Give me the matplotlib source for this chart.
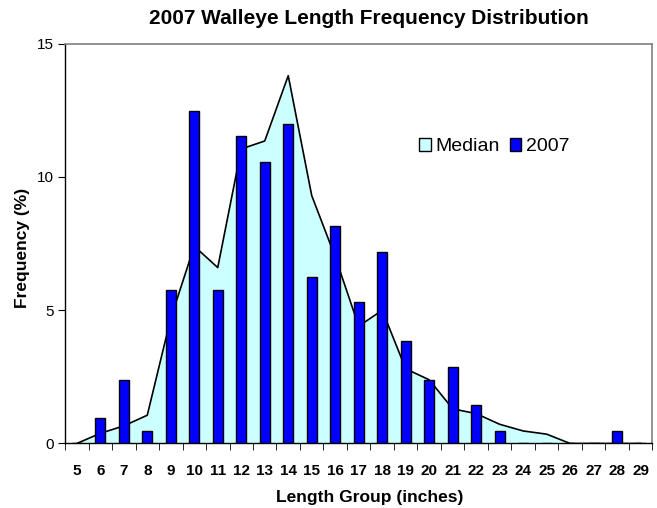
import numpy as np
import matplotlib.pyplot as plt
from matplotlib.patches import Patch

plt.rcParams['font.family'] = ['Liberation Sans', 'DejaVu Sans']

# Length groups (inches)
lengths = list(range(5, 30))

# Frequency (%) per length group
freq_2007 = [0, 0.94, 2.39, 0.46, 5.76, 12.48, 5.76, 11.54, 10.56, 12.0,
             6.24, 8.15, 5.29, 7.18, 3.85, 2.4, 2.86, 1.46, 0.46, 0,
             0, 0, 0, 0.46, 0]
freq_median = [0, 0.38, 0.66, 1.06, 4.7, 7.4, 6.6, 11.05, 11.35, 13.8,
               9.3, 7.0, 4.4, 5.0, 2.8, 2.39, 1.3, 1.12, 0.72, 0.47,
               0.35, 0, 0, 0, 0]

median_color = '#CCFFFF'
bar_color = '#0000FF'

fig = plt.figure(figsize=(6.57, 5.08), dpi=100)
ax = fig.add_axes([0.099, 0.127, 0.894, 0.787])

x = np.arange(len(lengths))

# Median as area, 2007 as columns
ax.fill_between(x, freq_median, 0, color=median_color, zorder=1, linewidth=0)
ax.plot(x, freq_median, color='black', linewidth=1.2, zorder=2)
ax.bar(x, freq_2007, width=0.43, color=bar_color, edgecolor='black',
       linewidth=1.0, zorder=3)

ax.set_xlim(-0.5, len(lengths) - 0.5)
ax.set_ylim(0, 15)

# Axis ticks
ax.set_yticks([0, 5, 10, 15])
ax.tick_params(axis='y', direction='out', length=5, labelsize=11, pad=3)
ax.set_xticks(x)
ax.set_xticklabels([str(v) for v in lengths], fontweight='bold', fontsize=11)
ax.tick_params(axis='x', which='major', length=0, pad=14.5)
ax.set_xticks(np.arange(-0.5, len(lengths)), minor=True)
ax.tick_params(axis='x', which='minor', direction='out', length=5)

# Plot-area border
for side in ['top', 'right']:
    ax.spines[side].set_color('#808080')
    ax.spines[side].set_linewidth(1.2)
for side in ['left', 'bottom']:
    ax.spines[side].set_color('black')
    ax.spines[side].set_linewidth(1.0)

ax.set_xlabel('Length Group (inches)', fontweight='bold', fontsize=12.5)
ax.xaxis.set_label_coords(0.519, -0.134)
ax.xaxis.label.set_verticalalignment('center')
ax.set_ylabel('Frequency (%)', fontweight='bold', fontsize=12.5)
ax.yaxis.set_label_coords(-0.073, 0.489)
ax.yaxis.label.set_verticalalignment('center')

fig.text(0.562, 0.963, '2007 Walleye Length Frequency Distribution',
         ha='center', va='center', fontweight='bold', fontsize=15)

handles = [Patch(facecolor=median_color, edgecolor='black', label='Median'),
           Patch(facecolor=bar_color, edgecolor='black', label='2007')]
ax.legend(handles=handles, loc='center', bbox_to_anchor=(0.731, 0.743),
          ncol=2, frameon=False, fontsize=14, handlelength=0.6,
          handleheight=0.7, handletextpad=0.25, columnspacing=0.5,
          borderpad=0)

fig.savefig('out.png', dpi=100)
